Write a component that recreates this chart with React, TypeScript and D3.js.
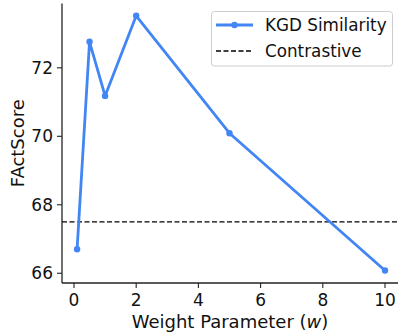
import * as d3 from "d3";

const width = 398;
const height = 335;

const weights = [0.1, 0.5, 1, 2, 5, 10];
const kgdScores = [66.7, 72.76, 71.18, 73.52, 70.09, 66.08];
const contrastiveScore = 67.5;
const xTicks = [0, 2, 4, 6, 8, 10];
const yTicks = [66, 68, 70, 72];

const lineColor = "#4285f4";
const font = "'DejaVu Sans', sans-serif";

export default function App() {
  // matplotlib-style 5% padding
  const x = d3.scaleLinear().domain([-0.395, 10.495]).range([61.7, 400.4]);
  const y = d3.scaleLinear().domain([65.73, 73.87]).range([282.5, 3.8]);

  const pts = weights.map((w, i) => ({ w, v: kgdScores[i] }));
  const line = d3
    .line<{ w: number; v: number }>()
    .x((d) => x(d.w))
    .y((d) => y(d.v));

  const x0 = 62;
  const yBottom = 283;

  return (
    <svg
      width={width}
      height={height}
      style={{ position: "absolute", left: 0, top: 0, fontFamily: font }}
    >
      <rect width={width} height={height} fill="#fff" />
      <defs>
        <clipPath id="plot">
          <rect x={x0} y={0} width={width - x0} height={yBottom} />
        </clipPath>
      </defs>

      <g clipPath="url(#plot)">
        <line
          x1={x0}
          x2={width}
          y1={y(contrastiveScore)}
          y2={y(contrastiveScore)}
          stroke="#000"
          strokeWidth={1.4}
          strokeDasharray="5 2.5"
        />
        <path d={line(pts) ?? ""} fill="none" stroke={lineColor} strokeWidth={2.8} strokeLinejoin="round" />
        {pts.map((d) => (
          <circle key={d.w} cx={x(d.w)} cy={y(d.v)} r={3.2} fill={lineColor} />
        ))}
      </g>

      {/* axes */}
      <line x1={x0} x2={x0} y1={3.5} y2={yBottom} stroke="#222" strokeWidth={1.3} />
      <line x1={x0} x2={width} y1={yBottom} y2={yBottom} stroke="#222" strokeWidth={1.3} />

      {yTicks.map((t) => (
        <g key={t}>
          <line x1={x0 - 5} x2={x0} y1={y(t)} y2={y(t)} stroke="#222" strokeWidth={1.1} />
          <text x={x0 - 9} y={y(t)} dy="0.36em" textAnchor="end" fontSize={17} fill="#111">
            {t}
          </text>
        </g>
      ))}
      {xTicks.map((t) => (
        <g key={t}>
          <line x1={x(t)} x2={x(t)} y1={yBottom} y2={yBottom + 5} stroke="#222" strokeWidth={1.1} />
          <text x={x(t)} y={yBottom + 23} textAnchor="middle" fontSize={17} fill="#111">
            {t}
          </text>
        </g>
      ))}

      <text x={230} y={328} textAnchor="middle" fontSize={18} fill="#111">
        Weight Parameter (<tspan fontStyle="italic">w</tspan>)
      </text>
      <text
        transform={`translate(24, ${(yBottom + 3.5) / 2}) rotate(-90)`}
        textAnchor="middle"
        fontSize={18}
        fill="#111"
      >
        FActScore
      </text>

      {/* legend */}
      <rect x={211.5} y={11.5} width={181} height={54.5} rx={3} fill="#fff" stroke="#ccc" strokeWidth={1} />
      <line x1={216} x2={253} y1={25} y2={25} stroke={lineColor} strokeWidth={2.8} />
      <circle cx={234.5} cy={25} r={3.2} fill={lineColor} />
      <text x={265} y={25} dy="0.36em" fontSize={16.8} fill="#111">
        KGD Similarity
      </text>
      <line x1={216} x2={253} y1={51} y2={51} stroke="#000" strokeWidth={1.4} strokeDasharray="5 2.5" />
      <text x={265} y={51} dy="0.36em" fontSize={16.8} fill="#111">
        Contrastive
      </text>
    </svg>
  );
}
